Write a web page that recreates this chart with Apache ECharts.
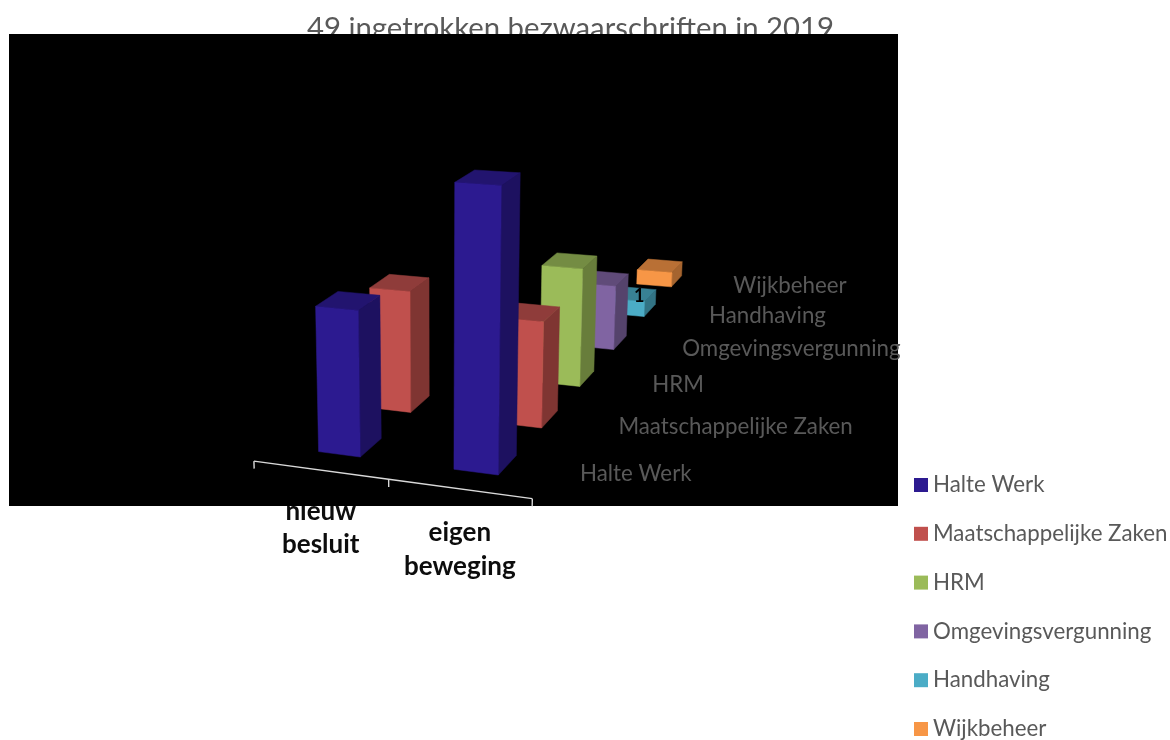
<!DOCTYPE html>
<html>
<head>
<meta charset="utf-8">
<style>html,body{margin:0;padding:0;background:#fff}#c{width:1170px;height:740px}</style>
<script src="https://cdn.jsdelivr.net/npm/echarts@6/dist/echarts.min.js"></script>
</head>
<body>
<div id="c"></div>
<script>
const titleText = '49 ingetrokken bezwaarschriften in 2019';
const categories = ['nieuw\nbesluit', 'eigen\nbeweging'];
const seriesNames = ['Halte Werk', 'Maatschappelijke Zaken', 'HRM', 'Omgevingsvergunning', 'Handhaving', 'Wijkbeheer'];
const halteWerk = [8, 15];
const maatschappelijkeZaken = [7, 6];
const hrm = [null, 7];
const omgevingsvergunning = [null, 4];
const handhaving = [null, 1];
const wijkbeheer = [null, 1];
const seriesValues = [halteWerk, maatschappelijkeZaken, hrm, omgevingsvergunning, handhaving, wijkbeheer];
const labelledSeries = ['Handhaving'];

const frontColors = ['#2c1a90', '#c0504d', '#9bbb59', '#8064a2', '#4bacc6', '#f79646'];
const sideColors  = ['#1d1160', '#7f3532', '#687d3b', '#55436c', '#327384', '#a5642f'];
const topColors   = ['#22146f', '#8f3c3a', '#748c43', '#604b79', '#388194', '#b97035'];

// hidden cartesian system: its band and value scales feed the 3D projection
const GRID = { left: 300, top: 100, bandPx: 126.5, unitPx: 19.9, maxValue: 15 };
const CAM = { ox: 498, oy: 475, zx: 79.4, zy: -18.5, xy: 3.4, yx: -1.4, wx: -0.032, wz: 0.0667, wy: -0.0032 };
const BAR = { width: 0.315, depth: 0.40 };
const gridRight = GRID.left + 2 * GRID.bandPx;

function project(X, Y, Z) {
  const w = 1 + CAM.wx * X + CAM.wz * Z + CAM.wy * Y;
  return [
    (CAM.ox + GRID.bandPx * X + CAM.zx * Z + CAM.yx * Y) / w,
    (CAM.oy + CAM.xy * X + CAM.zy * Z - GRID.unitPx * Y) / w
  ];
}
// band centre on the hidden x axis -> right edge of the bar in world units
function barRightX(api, c) {
  const gx = api.coord([c, 0])[0];
  return (gx - gridRight + GRID.bandPx / 2) / GRID.bandPx + BAR.width / 2 - 0.155;
}
function worldY(api, v) {
  return (api.coord([0, 0])[1] - api.coord([0, v])[1]) / GRID.unitPx;
}
function poly(points, fill) {
  return { type: 'polygon', shape: { points }, style: { fill, stroke: fill, lineWidth: 0.5 } };
}
function barRenderer(s) {
  return function (params, api) {
    const c = api.value(0), v = api.value(1);
    if (v == null || isNaN(v)) return { type: 'group', children: [] };
    const xr = barRightX(api, c), xl = xr - BAR.width;
    const zf = s, zb = s + BAR.depth, y = worldY(api, v);
    const flb = project(xl, 0, zf), frb = project(xr, 0, zf), flt = project(xl, y, zf), frt = project(xr, y, zf);
    const brb = project(xr, 0, zb), brt = project(xr, y, zb), blt = project(xl, y, zb);
    const children = [
      poly([frb, brb, brt, frt], sideColors[s]),
      poly([flt, frt, brt, blt], topColors[s]),
      poly([flb, frb, frt, flt], frontColors[s])
    ];
    if (labelledSeries.includes(seriesNames[s])) {
      children.push({
        type: 'text', z2: 5,
        style: { text: String(v), x: frt[0] - 5.5, y: flt[1] - 2, align: 'center', verticalAlign: 'middle',
          font: 'bold 18px Lato, sans-serif', fill: '#000' }
      });
    }
    return { type: 'group', children };
  };
}

const barSeries = seriesNames.map((name, s) => ({
  name, type: 'custom', coordinateSystem: 'cartesian2d', z: 30 - s, silent: true,
  itemStyle: { color: frontColors[s] },
  encode: { x: 0, y: 1 },
  clip: false,
  data: categories.map((cat, c) => [c, seriesValues[s][c]]),
  renderItem: barRenderer(s)
}));

const AXIS_Z = -0.33, AXIS_X0 = -1.66, TICK = 0.42;
const axisSeries = {
  type: 'custom', coordinateSystem: 'cartesian2d', z: 8, silent: true, clip: false,
  encode: { x: 0, y: 1 },
  data: [[0, 0]],
  renderItem: function () {
    const ticks = [0, 1, 2].map(i => AXIS_X0 + i);
    const line = { type: 'polyline', shape: { points: ticks.map(x => project(x, 0, AXIS_Z)) },
      style: { fill: 'none', stroke: '#d9d9d9', lineWidth: 1.4 } };
    const marks = ticks.map(x => ({ type: 'line',
      shape: { x1: project(x, 0, AXIS_Z)[0], y1: project(x, 0, AXIS_Z)[1], x2: project(x, -TICK, AXIS_Z)[0], y2: project(x, -TICK, AXIS_Z)[1] },
      style: { stroke: '#d9d9d9', lineWidth: 1.4 } }));
    return { type: 'group', children: [line, ...marks] };
  }
};
const categoryLabelSeries = {
  type: 'custom', coordinateSystem: 'cartesian2d', z: 1, silent: true, clip: false,
  encode: { x: 0, y: 1 },
  data: categories.map((c, i) => [i, 0]),
  renderItem: function (params, api) {
    const c = api.value(0), p = project(AXIS_X0 + c + 0.5, 0, AXIS_Z);
    return { type: 'text', style: { text: categories[c], x: p[0] + 0.5, y: p[1] + 58 + 3 * c, align: 'center', verticalAlign: 'middle',
      font: 'bold 26px Lato, sans-serif', lineHeight: 33.5, fill: '#0d0d0d' } };
  }
};
const depthLabelSeries = {
  type: 'custom', coordinateSystem: 'cartesian2d', z: 40, silent: true, clip: false,
  encode: { x: 0, y: 1 },
  data: seriesNames.map((n, i) => [0, i]),
  renderItem: function (params) {
    const s = params.dataIndex, p = project(0.5, 0, s + 0.21);
    return { type: 'text', style: { text: seriesNames[s], x: p[0] + 1, y: p[1], align: 'left', verticalAlign: 'middle',
      font: '22.3px Lato, sans-serif', fill: '#595959' } };
  }
};

const chart = echarts.init(document.getElementById('c'), null, { renderer: 'canvas' });
chart.setOption({
  animation: false,
  backgroundColor: '#ffffff',
  title: { text: titleText, left: 565.5, top: 9, textAlign: 'center', z: 0,
    textStyle: { fontFamily: 'Lato, sans-serif', fontSize: 29.3, fontWeight: 'normal', color: '#595959' } },
  graphic: [{ type: 'rect', left: 9, top: 34, z: 3, silent: true, shape: { width: 889, height: 472 }, style: { fill: '#000' } }],
  grid: { left: GRID.left, top: GRID.top, width: 2 * GRID.bandPx, height: GRID.maxValue * GRID.unitPx },
  xAxis: { type: 'category', data: categories, show: false },
  yAxis: { type: 'value', min: 0, max: GRID.maxValue, show: false },
  legend: { orient: 'vertical', left: 914, top: 474, padding: 0, itemWidth: 14, itemHeight: 14, itemGap: 26.8, icon: 'rect',
    data: seriesNames, selectedMode: false,
    textStyle: { fontFamily: 'Lato, sans-serif', fontSize: 22.3, color: '#595959' } },
  series: [categoryLabelSeries, ...barSeries, axisSeries, depthLabelSeries]
});
</script>
</body>
</html>
